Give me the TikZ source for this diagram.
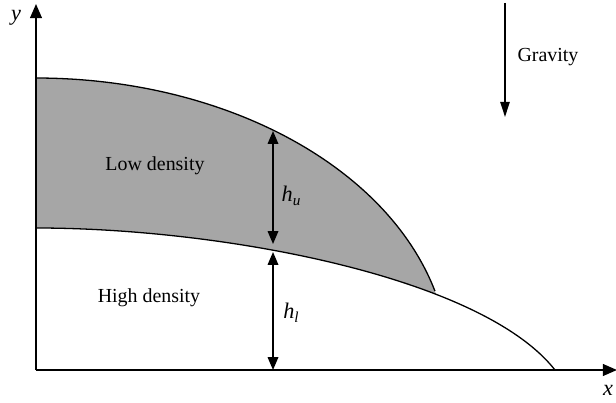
\documentclass[tikz,border=0pt]{standalone}
\usepackage{fontspec}
\setmainfont{Liberation Serif}
\usetikzlibrary{arrows.meta}
\begin{document}
\begin{tikzpicture}[x=0.03cm,y=-0.03cm,
  axisline/.style={line width=1.5pt,-{Triangle[length=12pt,width=10pt]}},
  dimarrow/.style={line width=1.4pt,{Triangle[length=11pt,width=9pt]}-{Triangle[length=11pt,width=9pt]}},
  gravarrow/.style={line width=1.4pt,-{Triangle[length=13pt,width=8pt]}},
  curve/.style={line width=1.1pt},
  lbl/.style={font=\fontsize{17}{20}\selectfont, inner sep=0pt},
  sublbl/.style={font=\fontsize{19}{22}\selectfont\itshape, inner sep=0pt}
]
\useasboundingbox (0,0) rectangle (616,403);
% shaded low-density layer: area under upper interface, then white under lower interface
\fill[black!35] plot[domain=0:90, samples=80, variable=\t] ({36+413*sin(\t)}, {365.4-287.4*cos(\t)})
  -- (449,370) -- (36,370) -- cycle;
\fill[white] (36,228) .. controls (220,228) and (481,276) .. (555,370) -- (36,370) -- cycle;
% upper interface
\draw[curve] plot[domain=0:75, samples=80, variable=\t] ({36+413*sin(\t)}, {365.4-287.4*cos(\t)});
% lower interface
\draw[curve] (36,228) .. controls (220,228) and (481,276) .. (555,370);
% axes
\coordinate (O) at (36,370);
\coordinate (ytip) at (36,4);
\coordinate (xtip) at (617,370);
\draw[axisline] (O) -- (ytip);
\draw[axisline] (O) -- (xtip);
\node[lbl, font=\fontsize{19}{22}\selectfont\itshape] (ylab) at (16,18) {y};
\node[lbl, font=\fontsize{19}{22}\selectfont\itshape] (xlab) at (608,390) {x};
% dimension arrows
\coordinate (hutop) at (273,131);
\coordinate (hubot) at (273,244);
\coordinate (hltop) at (273,252);
\coordinate (hlbot) at (273,370);
\draw[dimarrow] (hutop) -- (hubot);
\draw[dimarrow] (hltop) -- (hlbot);
\node[sublbl] (hu) at (291,196) {h\raisebox{-0.35ex}{\fontsize{13}{14}\selectfont u}};
\node[sublbl] (hl) at (291,313) {h\raisebox{-0.35ex}{\fontsize{13}{14}\selectfont l}};
% gravity
\coordinate (gtop) at (505,3);
\coordinate (gbot) at (505,117);
\draw[gravarrow] (gtop) -- (gbot);
\node[lbl] (grav) at (548,57) {Gravity};
% region labels
\node[lbl] (low) at (155,166) {Low density};
\node[lbl] (high) at (149,298) {High density};
\end{tikzpicture}
\end{document}
